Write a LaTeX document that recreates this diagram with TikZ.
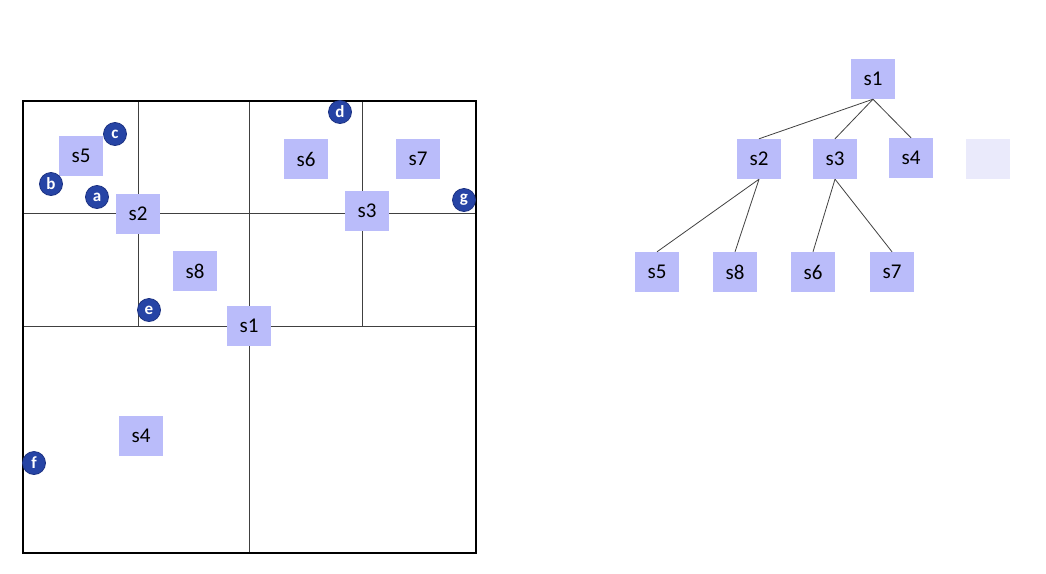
\documentclass[tikz,border=0pt]{standalone}
\usepackage{fontspec}
\setmainfont{Carlito}
\definecolor{cellfill}{RGB}{186,188,250}
\definecolor{ghostfill}{RGB}{234,234,251}
\definecolor{ptfill}{RGB}{38,68,165}
\definecolor{ptline}{RGB}{28,50,130}
\begin{document}
\begin{tikzpicture}[x=1pt,y=-1pt,
	cell/.style={fill=cellfill,minimum width=44pt,minimum height=40pt,inner sep=0pt,font=\fontsize{21}{23}\selectfont},
	pt/.style={circle,fill=ptfill,draw=ptline,line width=0.8pt,minimum size=23pt,inner sep=0pt,text=white,font=\bfseries\fontsize{17}{18}\selectfont},
	split/.style={line width=0.8pt,color=black!75}]
		\useasboundingbox (0,0) rectangle (1046,573);
		\draw[split] (249,101) -- (249,553);
		\draw[split] (23,326) -- (476,326);
		\draw[split] (138,101) -- (138,326);
		\draw[split] (23,213) -- (249,213);
		\draw[split] (362,101) -- (362,326);
		\draw[split] (249,213) -- (476,213);
		\draw[line width=1.8pt] (23,101) rectangle (476,553);
		\node[cell] (q5) at (81,156) {s5};
		\node[cell] (q2) at (138,214) {s2};
		\node[cell] (q8) at (195,271) {s8};
		\node[cell] (q1) at (249,326) {s1};
		\node[cell] (q6) at (306,159) {s6};
		\node[cell] (q7) at (418,159) {s7};
		\node[cell] (q3) at (367,211) {s3};
		\node[cell] (q4) at (141,436) {s4};
		\node[pt] (pa) at (97,197) {a};
		\node[pt] (pb) at (51,184) {b};
		\node[pt] (pc) at (115,134) {c};
		\node[pt] (pd) at (340,112) {d};
		\node[pt] (pe) at (149,310) {e};
		\node[pt] (pf) at (34,463) {f};
		\node[pt] (pg) at (464,200) {g};
		\node[cell] (t1) at (873,79) {s1};
		\node[cell] (t2) at (759,159) {s2};
		\node[cell] (t3) at (835,159) {s3};
		\node[cell] (t4) at (911,158) {s4};
		\node[cell,fill=ghostfill] (t0) at (988,159) {};
		\node[cell] (t5) at (657,272) {s5};
		\node[cell] (t8) at (735,272) {s8};
		\node[cell] (t6) at (813,272) {s6};
		\node[cell] (t7) at (892,272) {s7};
		\foreach \a/\b in {t1/t2,t1/t3,t1/t4,t2/t5,t2/t8,t3/t6,t3/t7}
			\draw[line width=0.8pt,color=black!75] (\a.south) -- (\b.north);
	\end{tikzpicture}
\end{document}
